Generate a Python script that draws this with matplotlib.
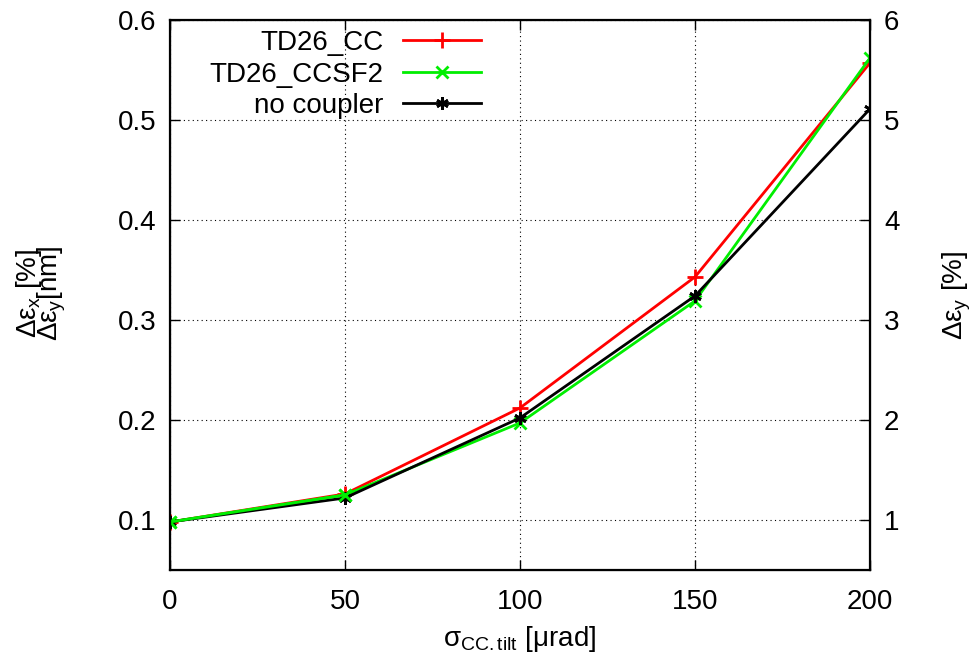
import matplotlib
matplotlib.use("Agg")
import matplotlib.pyplot as plt

plt.rcParams['font.family'] = ['Liberation Sans', 'DejaVu Sans']
plt.rcParams['mathtext.fontset'] = 'custom'
plt.rcParams['mathtext.rm'] = 'Liberation Sans'
plt.rcParams['mathtext.it'] = 'Liberation Sans'

# data
tilt = [0, 50, 100, 150, 200]
td26_cc = [0.098, 0.126, 0.212, 0.343, 0.557]
td26_ccsf2 = [0.098, 0.125, 0.197, 0.319, 0.562]
no_coupler = [0.098, 0.122, 0.202, 0.324, 0.511]

x_ticks = [0, 50, 100, 150, 200]
y_ticks = [0.1, 0.2, 0.3, 0.4, 0.5, 0.6]
y2_ticks = [1, 2, 3, 4, 5, 6]

fig = plt.figure(figsize=(9.79, 6.61), dpi=100)
ax = fig.add_axes([0.1736, 0.1377, 0.7151, 0.8323])

ax.plot(tilt, td26_cc, color='#ff0000', lw=2, marker='+', ms=11, mew=2, label='TD26_CC')
ax.plot(tilt, td26_ccsf2, color='#00ee00', lw=2, marker='x', ms=8, mew=2, label='TD26_CCSF2')
ax.plot(tilt, no_coupler, color='black', lw=2, marker=(6, 2, 0), ms=9, mew=2, label='no coupler')
# redraw green start on top so the first point shows green like the reference
ax.plot(tilt[:2], td26_ccsf2[:2], color='#00ee00', lw=2, marker='x', ms=8, mew=2)

ax.set_xlim(0, 200)
ax.set_ylim(0.05, 0.6)
ax.set_xticks(x_ticks)
ax.set_yticks(y_ticks)
ax.set_yticklabels([f'{v:.1f}' for v in y_ticks])
ax.grid(True, color='black', linestyle=(0, (1, 3)), linewidth=0.8)
ax.tick_params(direction='in', length=7, width=1, labelsize=20, pad=10, top=True)
ax.tick_params(axis='x', pad=14)
for s in ax.spines.values():
    s.set_linewidth(1.6)

ax2 = ax.twinx()
ax2.set_ylim(0.5, 6)
ax2.set_yticks(y2_ticks)
ax2.tick_params(direction='in', length=7, width=1, labelsize=20, pad=10)

ax.set_xlabel(r'$\sigma_{\mathrm{CC.tilt}}$ [$\mu$rad]', fontsize=20, labelpad=6)
# gnuplot draws these two label lines on top of each other
fig.text(0.030, 0.556, r'$\Delta\varepsilon_{x}$ [%]', rotation=90, fontsize=20, ha='center', va='center')
fig.text(0.053, 0.556, r'$\Delta\varepsilon_{y}$[nm]', rotation=90, fontsize=20, ha='center', va='center')
ax2.set_ylabel(r'$\Delta\varepsilon_{y}$ [%]', fontsize=20, labelpad=30)

ax.legend(loc='upper right', bbox_to_anchor=(481 / 979, 1 - 30 / 661), bbox_transform=fig.transFigure,
          frameon=False, markerfirst=False, fontsize=20, handlelength=2.8, handletextpad=0.72,
          labelspacing=0.2, borderaxespad=0, borderpad=0)

fig.savefig('out.png', dpi=100)
